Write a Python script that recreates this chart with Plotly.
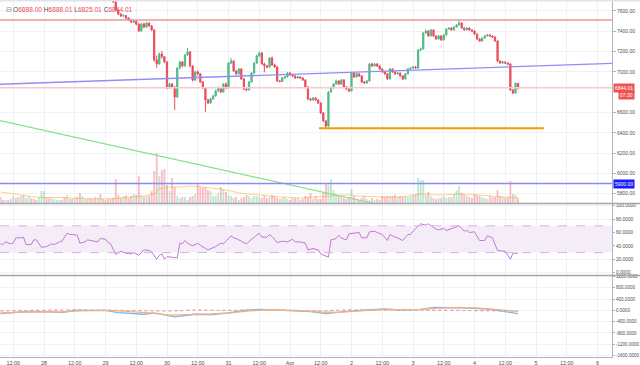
import plotly.graph_objects as go
from datetime import datetime, timedelta

# ---------------- data (hourly candles, hour offsets from 2018-03-28 00:00) ----------------
BASE = datetime(2018, 3, 28)
FIRST_HOUR = -17
FIRST_OPEN = 8000

closes = [
    7985, 7960, 7990, 7945, 7930, 7950, 7905, 7880, 7900, 7870,
    7890, 7915, 7880, 7860, 7845, 7870, 7905, 7940, 7900, 7880,
    7890, 7925, 7960, 7975, 7950, 7930, 7955, 7940, 7910, 7925,
    7900, 7880, 7905, 7930, 7920, 7895, 7870, 7850, 7865, 7840,
    7820, 7800, 7790, 7760,
    7690, 7610, 7570, 7550, 7555, 7530, 7510, 7490, 7500, 7470,
    7403, 7472, 7442, 7481, 7452, 7413, 7117, 7080, 7176, 7150,
    7097, 6841, 6880, 6851, 6753, 7038, 7097, 7058, 7166, 7196,
    7058, 6920, 6999, 6980, 6900, 6841, 6723, 6693, 6733, 6762,
    6812, 6841, 6802, 6880, 6841, 7087, 7107, 7009, 6980, 7028,
    6930, 6831, 6822, 6900, 6989, 7087, 7156, 7186, 7078, 7058,
    7048, 7137, 7068, 7048, 6910, 6905, 6940, 6950, 6989, 6969,
    6960, 6940, 6950, 6940, 6920, 6851, 6733, 6723, 6743, 6723,
    6693, 6595, 6516, 6467, 6802, 6841, 6880, 6910, 6880, 6920,
    6851, 6831, 6812, 6989, 6950, 6980, 6960, 6900, 6890, 6910,
    7078, 7058, 7078, 7058, 7028, 6999, 6980, 6930, 7028, 6999,
    6980, 6989, 6960, 6930, 6980, 7028, 7038, 7048, 7038, 7216,
    7225, 7383, 7403, 7354, 7413, 7354, 7324, 7354, 7314, 7363,
    7422, 7432, 7413, 7442, 7462, 7481, 7432, 7413, 7432, 7413,
    7403, 7373, 7324, 7304, 7334, 7354, 7363, 7354, 7344, 7304,
    7107, 7087, 7097, 7087, 7078, 6822, 6792, 6888, 6844.01,
]
highs = [
    8020, 7995, 8005, 7998, 7960, 7965, 7958, 7915, 7912, 7908,
    7900, 7925, 7920, 7890, 7868, 7878, 7915, 7955, 7948, 7910,
    7900, 7935, 7972, 7990, 7982, 7958, 7965, 7962, 7945, 7935,
    7930, 7908, 7912, 7940, 7938, 7925, 7900, 7878, 7872, 7870,
    7848, 7828, 7810, 7798,
    7770, 7710, 7620, 7580, 7565, 7560, 7538, 7515, 7510, 7505,
    7478, 7480, 7485, 7490, 7488, 7460, 7420, 7160, 7190, 7205,
    7150, 7105, 6895, 6890, 6860, 7045, 7110, 7105, 7175, 7235,
    7205, 7065, 7010, 7015, 6990, 6910, 6850, 6735, 6745, 6775,
    6825, 6855, 6850, 6890, 6895, 7095, 7135, 7115, 7020, 7040,
    7035, 6940, 6845, 6910, 7000, 7095, 7170, 7200, 7195, 7090,
    7070, 7145, 7150, 7080, 7055, 6920, 6950, 6960, 7000, 6998,
    6980, 6968, 6960, 6958, 6948, 6928, 6860, 6745, 6752, 6750,
    6730, 6700, 6605, 6525, 6810, 6855, 6890, 6925, 6920, 6930,
    6928, 6860, 6840, 7000, 6998, 6992, 6988, 6968, 6910, 6920,
    7090, 7088, 7090, 7085, 7065, 7035, 7008, 6988, 7038, 7035,
    7008, 6998, 6995, 6968, 6990, 7038, 7048, 7058, 7058, 7225,
    7240, 7395, 7420, 7410, 7422, 7420, 7360, 7362, 7360, 7372,
    7430, 7442, 7440, 7450, 7472, 7511, 7490, 7440, 7440, 7438,
    7420, 7410, 7380, 7330, 7342, 7362, 7375, 7370, 7360, 7350,
    7310, 7115, 7108, 7102, 7095, 7085, 6830, 6895, 6888.01,
]
lows = [
    7970, 7945, 7950, 7935, 7915, 7920, 7895, 7865, 7870, 7860,
    7858, 7880, 7872, 7850, 7835, 7838, 7862, 7898, 7890, 7870,
    7872, 7882, 7918, 7952, 7940, 7920, 7925, 7930, 7900, 7902,
    7890, 7870, 7872, 7898, 7910, 7885, 7860, 7840, 7842, 7830,
    7810, 7790, 7780, 7748,
    7680, 7598, 7560, 7540, 7540, 7520, 7500, 7480, 7482, 7460,
    7390, 7398, 7430, 7435, 7445, 7405, 7100, 7040, 7070, 7130,
    7085, 6830, 6832, 6840, 6625, 6740, 7025, 7045, 7050, 7155,
    7045, 6905, 6910, 6965, 6890, 6830, 6605, 6680, 6685, 6725,
    6755, 6800, 6790, 6795, 6830, 6835, 7075, 7000, 6970, 6975,
    6920, 6820, 6810, 6815, 6895, 6980, 7080, 7145, 7070, 6995,
    7035, 7040, 7060, 7040, 6900, 6895, 6900, 6932, 6945, 6960,
    6950, 6930, 6935, 6930, 6910, 6840, 6720, 6712, 6715, 6712,
    6685, 6585, 6505, 6440, 6455, 6795, 6835, 6872, 6870, 6872,
    6840, 6820, 6800, 6805, 6940, 6942, 6950, 6890, 6880, 6882,
    6905, 7050, 7052, 7050, 7020, 6990, 6970, 6920, 6925, 6990,
    6970, 6972, 6950, 6920, 6925, 6975, 7020, 7030, 7030, 7032,
    7205, 7220, 7375, 7345, 7348, 7345, 7315, 7318, 7305, 7310,
    7358, 7415, 7405, 7408, 7435, 7455, 7425, 7405, 7408, 7405,
    7395, 7365, 7315, 7295, 7298, 7328, 7348, 7345, 7335, 7295,
    7095, 7078, 7080, 7078, 7065, 6810, 6780, 6785, 6825.01,
]
volumes = [
    6, 3, 3, 3, 4, 7, 5, 6, 7, 8, 5, 7, 5, 4, 3, 6, 12, 12, 6, 5,
    5, 4, 3, 3, 3, 6, 8, 4, 4, 5, 6, 10, 7, 4, 4, 5, 4, 6, 5, 9,
    4, 3, 4, 4,
    5,
    24, 8, 5, 7, 8, 5, 7, 9, 8, 27, 8, 6, 7, 7, 12, 32, 50, 27, 33, 34,
    18, 12, 25, 16, 7, 5, 6, 6, 3, 6, 7, 9, 19, 16, 15, 16, 13, 12, 7, 7,
    10, 16, 14, 11, 8, 7, 5, 6, 3, 5, 6, 8, 7, 5, 7, 7, 6, 5, 8, 5,
    6, 8, 7, 5, 4, 5, 6, 4, 3, 5, 5, 5,
    3, 4, 7, 6, 10, 4, 7, 4, 4, 10, 20, 18, 24, 13, 9, 7, 6, 5, 4, 6,
    14, 7, 4, 3, 5, 7, 4, 3, 5, 3, 4, 3, 7, 6, 7, 7, 7, 8, 6, 7,
    6, 7, 6, 7, 8, 9, 25, 23, 23, 8, 11, 7, 5, 4, 5, 5, 7, 5, 6, 6,
    9, 13, 17, 10, 8, 7, 6, 5, 9, 8, 7, 6, 5, 4, 7, 6, 6, 13, 7, 6,
    5, 6, 22, 9, 8, 5,
]
vol_ma_hours = [-17, -13, -9, -5, 0, 6, 14, 22, 28, 34, 39, 43, 45, 49, 53, 57, 61, 65, 69,
                73, 76, 84, 92, 100, 108, 112, 116, 119, 123, 131, 139, 147, 155, 162, 170, 178, 185]
vol_ma_vals = [11, 9.5, 8, 6.5, 5.5, 5.5, 4.5, 4, 4.5, 6, 7, 9, 14, 16, 16, 17, 16.5, 15, 14,
               12, 10, 8, 6, 5, 6, 7, 8, 8, 7, 6, 6, 9, 8, 9, 8, 6, 5]

rsi_hours = [
    -17, -16, -15, -13, -12, -11, -9, -8, -7, -5,
    -4, -3, -1, 1, 3, 4, 6, 7, 9, 10,
    11, 13, 14, 16, 17, 19, 21, 22, 24, 25,
    26, 28, 30, 32, 34, 35, 37, 39, 41, 42,
    44, 45, 46, 47, 48, 50, 51, 52, 53, 54,
    55, 56, 58, 60, 61, 64, 67, 69, 70, 73,
    74, 75, 77, 79, 82, 84, 85, 87, 88, 89,
    91, 93, 95, 97, 98, 100, 102, 103, 105, 107,
    108, 110, 111, 112, 114, 115, 116, 118, 119, 121,
    123, 124, 126, 127, 129, 130, 132, 134, 135, 137,
    138, 140, 142, 143, 145, 147, 149, 150, 152, 153,
    154, 156, 157, 159, 161, 162, 164, 165, 166, 168,
    170, 172, 173, 175, 177, 179, 180, 181, 182, 183,
    185,
]
rsi_vals = [
    43, 42, 46, 43, 44, 52, 52, 53, 42, 42,
    49, 49, 38, 39, 43, 42, 46, 47, 59, 57,
    57, 56, 44, 46, 49, 47, 46, 51, 50, 45,
    43, 27, 32, 29, 28, 30, 26, 34, 33, 31,
    20, 26, 28, 20, 24, 23, 23, 22, 44, 43,
    48, 44, 40, 44, 41, 34, 39, 44, 43, 55,
    52, 51, 47, 43, 53, 59, 53, 53, 57, 54,
    45, 47, 46, 50, 46, 46, 44, 34, 36, 34,
    28, 24, 23, 49, 51, 56, 52, 49, 58, 59,
    60, 52, 52, 61, 62, 60, 57, 48, 57, 53,
    52, 48, 57, 57, 66, 73, 71, 73, 67, 65,
    64, 66, 63, 66, 68, 70, 62, 63, 60, 61,
    48, 48, 55, 52, 33, 32, 32, 26, 20, 29,
    29,
]

macd_hours = [-17, -9, 0, 7, 12, 24, 29, 39, 43, 51, 59, 66, 72, 78, 85, 94, 104, 110, 117,
              126, 133, 139, 147, 152, 158, 166, 174, 180, 185]
macd_vals = [-117, -60, -47, -80, 0, 0, -80, -140, -95, -235, -140, -150, -95, 0, 35, 0, -47,
             -117, -47, 10, 47, 10, 35, 106, 106, 82, 35, -47, -117]
signal_hours = [-17, -2, 6, 14, 26, 34, 41, 49, 57, 65, 73, 80, 88, 100, 108, 115, 123, 131,
                139, 147, 155, 162, 170, 178, 185]
signal_vals = [-90, -50, -60, -20, 0, -40, -90, -170, -160, -130, -90, -20, 20, -10, -60, -70,
               -20, 20, 25, 30, 80, 100, 80, 30, -40]
hist_hours = [-17, 0, 12, 24, 36, 48, 60, 72, 84, 96, 108, 120, 132, 144, 156, 168, 180, 185]
hist_vals = [-20, 5, 15, 5, -15, -25, 10, -5, 20, 5, -20, 15, 10, 5, 15, 5, -15, -25]

price_ticks = [5800, 6000, 6200, 6400, 6600, 7000, 7200, 7400, 7600]
rsi_ticks = [0, 20, 40, 60, 80, 100]
macd_ticks = [-1600, -1200, -800, -400, 0, 400, 800, 1200]

# drawings (time in hours, price)
resistance_price = 7511
support_price = 6444
support_hours = (107.3, 195.1)
blue_level = 5900
blue_trend = ((-17.2, 6878), (221.7, 7084))
green_trend = ((-17.2, 6519), (128.0, 5708))
last_price = 6844.01

# ---------------- helpers ----------------
def t(h):
    return BASE + timedelta(hours=h)

times = [t(FIRST_HOUR + i) for i in range(len(closes))]
opens = [FIRST_OPEN] + closes[:-1]
UP, DOWN = "#53b987", "#eb4d5c"
vol_colors = ["rgba(83,185,135,0.35)" if c >= o else "rgba(235,77,92,0.35)"
              for o, c in zip(opens, closes)]

X0, X1 = t(-17.17), t(221.66)
XDOM = [0, 612 / 640]
H = 365.0
def py(pix):
    return 1 - pix / H

GRID = "#eef1f6"
AXC = "#b2b5be"
TXT = "#4b4f56"
TF = 5

fig = go.Figure()

fig.add_trace(go.Bar(x=times, y=volumes, marker=dict(color=vol_colors, line=dict(width=0)),
                     width=3600000 * 0.75, xaxis="x", yaxis="y4", hoverinfo="skip"))
fig.add_trace(go.Scatter(x=[t(h) for h in vol_ma_hours], y=vol_ma_vals, mode="lines",
                         line=dict(color="rgba(255,152,0,0.45)", width=1), xaxis="x", yaxis="y4"))
fig.add_trace(go.Candlestick(
    x=times, open=opens, high=highs, low=lows, close=closes,
    increasing=dict(line=dict(color=UP, width=1), fillcolor=UP),
    decreasing=dict(line=dict(color=DOWN, width=1), fillcolor=DOWN),
    whiskerwidth=0, xaxis="x", yaxis="y"))

fig.add_trace(go.Scatter(x=[t(h) for h in rsi_hours], y=rsi_vals, mode="lines",
                         line=dict(color="#c07ad6", width=1), xaxis="x2", yaxis="y2"))

fig.add_trace(go.Scatter(x=[t(h) for h in hist_hours], y=hist_vals, mode="lines",
                         line=dict(color="#f48fb1", width=1.2, dash="dot"), xaxis="x3", yaxis="y3"))
fig.add_trace(go.Scatter(x=[t(h) for h in macd_hours], y=macd_vals, mode="lines",
                         line=dict(color="#6fbdf2", width=1.3), xaxis="x3", yaxis="y3"))
fig.add_trace(go.Scatter(x=[t(h) for h in signal_hours], y=signal_vals, mode="lines",
                         line=dict(color="#f7b27a", width=1.3), xaxis="x3", yaxis="y3"))

tick_hours = list(range(-12, 217, 12))
tick_vals = [t(h) for h in tick_hours]
tick_text = []
for h in tick_hours:
    d = t(h)
    if d.hour == 12:
        tick_text.append("12:00")
    elif d.day == 1:
        tick_text.append("Apr")
    else:
        tick_text.append(str(d.day))

xcommon = dict(range=[X0, X1], domain=XDOM, showgrid=True, gridcolor=GRID, gridwidth=1,
               tickvals=tick_vals, zeroline=False, automargin=False)
ycommon = dict(side="right", showgrid=True, gridcolor=GRID, zeroline=False, showline=True,
               linecolor=AXC, linewidth=1, ticks="outside", tickcolor=AXC, automargin=False)

fig.update_layout(
    width=640, height=365, margin=dict(l=0, r=0, t=0, b=0, autoexpand=False),
    paper_bgcolor="white", plot_bgcolor="white", showlegend=False,
    font=dict(family="Liberation Sans, Arial, sans-serif", size=TF, color=TXT),
    xaxis=dict(**xcommon, anchor="y", showline=False, showticklabels=False,
               rangeslider=dict(visible=False)),
    xaxis2=dict(**xcommon, anchor="y2", matches="x", showline=False, showticklabels=False),
    xaxis3=dict(**xcommon, anchor="y3", matches="x", ticktext=tick_text, showticklabels=True,
                tickfont=dict(size=5.5, color=TXT), ticks="", showline=True, linecolor=AXC),
    yaxis=dict(**ycommon, domain=[py(203), 1], range=[5708, 7708], anchor="x", ticklen=3,
               tickfont=dict(size=TF, color=TXT),
               tickvals=price_ticks, ticktext=[f"{v:.2f}" for v in price_ticks]),
    yaxis4=dict(overlaying="y", range=[0, 203], visible=False),
    yaxis2=dict(**ycommon, domain=[py(275), py(204)], range=[-3.5, 102.6], anchor="x2", ticklen=2,
                tickfont=dict(size=4.8, color=TXT),
                tickvals=rsi_ticks, ticktext=[f"{v:.4f}" for v in rsi_ticks]),
    yaxis3=dict(**ycommon, domain=[py(357), py(276)], range=[-1653, 1214], anchor="x3", ticklen=2,
                tickfont=dict(size=4.6, color=TXT),
                tickvals=macd_ticks, ticktext=[f"{v:.4f}" for v in macd_ticks]),
)

shapes = []
# RSI band
shapes.append(dict(type="rect", xref="x2 domain", yref="y2", x0=0, x1=1, y0=30, y1=70,
                   fillcolor="rgba(156,39,176,0.09)", line=dict(width=0), layer="below"))
for lv in (30, 70):
    shapes.append(dict(type="line", xref="x2 domain", yref="y2", x0=0, x1=1, y0=lv, y1=lv,
                       line=dict(color="#d8b0e8", width=1, dash="dash")))
# drawings on price pane
shapes += [
    dict(type="line", xref="x", yref="y", x0=X0, x1=X1, y0=last_price, y1=last_price,
         line=dict(color="#f7c9cc", width=1.5)),
    dict(type="line", xref="x", yref="y", x0=X0, x1=X1, y0=resistance_price, y1=resistance_price,
         line=dict(color="#f29494", width=1.5)),
    dict(type="line", xref="x", yref="y", x0=t(blue_trend[0][0]), x1=t(blue_trend[1][0]),
         y0=blue_trend[0][1], y1=blue_trend[1][1], line=dict(color="#8d8ff3", width=1.3)),
    dict(type="line", xref="x", yref="y", x0=t(green_trend[0][0]), x1=t(green_trend[1][0]),
         y0=green_trend[0][1], y1=green_trend[1][1], line=dict(color="#86e08a", width=1.2)),
    dict(type="line", xref="x", yref="y", x0=t(support_hours[0]), x1=t(support_hours[1]),
         y0=support_price, y1=support_price, line=dict(color="#ff9800", width=2)),
    dict(type="line", xref="x", yref="y", x0=X0, x1=X1, y0=blue_level, y1=blue_level,
         line=dict(color="#8a8cf5", width=1.5)),
]
# pane separators and frame
for pix in (203.5, 275.5):
    shapes.append(dict(type="line", xref="paper", yref="paper", x0=0, x1=1, y0=py(pix), y1=py(pix),
                       line=dict(color="#a3a6ad", width=1.3)))
shapes.append(dict(type="rect", xref="paper", yref="paper", x0=0, x1=1, y0=py(1.5), y1=1,
                   fillcolor="#e0e3eb", line=dict(width=0)))
fig.update_layout(shapes=shapes)

ann = []
ann.append(dict(xref="paper", yref="paper", x=4 / 640, y=py(9), xanchor="left", yanchor="middle",
                showarrow=False, text="⊟", font=dict(size=7, color="#8a8f99")))
red = "#e8505e"
legend_txt = (f"<span style='color:{TXT}'>O</span><span style='color:{red}'>6888.00</span> "
              f"<span style='color:{TXT}'>H</span><span style='color:{red}'>6888.01</span> "
              f"<span style='color:{TXT}'>L</span><span style='color:{red}'>6825.01</span> "
              f"<span style='color:{TXT}'>C</span><span style='color:{red}'>6844.01</span>")
ann.append(dict(xref="paper", yref="paper", x=11 / 640, y=py(9), xanchor="left", yanchor="middle",
                showarrow=False, text=legend_txt, font=dict(size=6.6)))
ann.append(dict(xref="paper", yref="y", x=613 / 640, y=last_price, xanchor="left", yanchor="middle",
                showarrow=False, text="6844.01", bgcolor="#ef5350", borderpad=1,
                font=dict(size=TF, color="white")))
ann.append(dict(xref="paper", yref="y", x=618 / 640, y=last_price, yshift=-7, xanchor="left",
                yanchor="middle", showarrow=False, text="07:30", bgcolor="#ef5350", borderpad=1,
                font=dict(size=TF, color="white")))
ann.append(dict(xref="paper", yref="y", x=613 / 640, y=blue_level, xanchor="left", yanchor="middle",
                showarrow=False, text="5900.00", bgcolor="#1a1aff", borderpad=1,
                font=dict(size=TF, color="white")))
fig.update_layout(annotations=ann)

fig.write_html("out.html", config={"displayModeBar": False},
               post_script="document.body.style.margin='0';document.body.style.overflow='hidden';")
